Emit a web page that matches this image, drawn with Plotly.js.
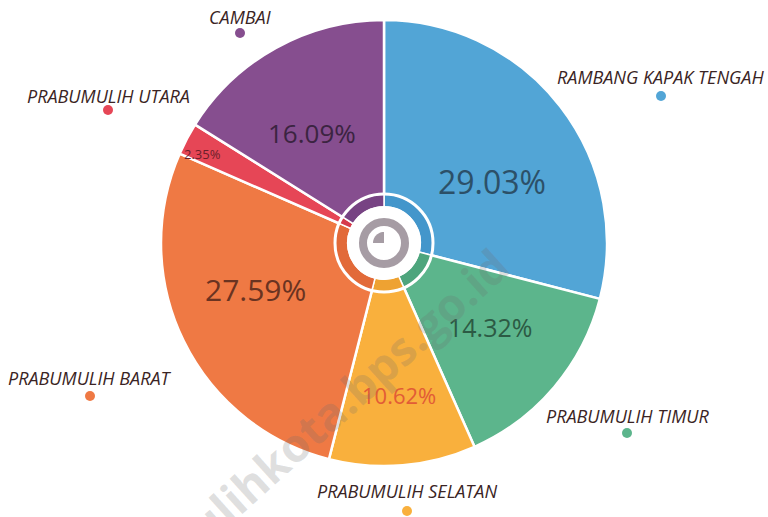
<!DOCTYPE html>
<html>
<head>
<meta charset="utf-8">
<script src="https://cdn.plot.ly/plotly-3.0.1.min.js"></script>
<style>html,body{margin:0;padding:0;background:#fff;}#chart{width:768px;height:517px;}</style>
</head>
<body>
<div id="chart"></div>
<script>
// ---- data ----
const categories = ["RAMBANG KAPAK TENGAH", "PRABUMULIH TIMUR", "PRABUMULIH SELATAN", "PRABUMULIH BARAT", "PRABUMULIH UTARA", "CAMBAI"];
const shares = [29.03, 14.32, 10.62, 27.59, 2.35, 16.09];
const percentLabels = ["29.03%", "14.32%", "10.62%", "27.59%", "2.35%", "16.09%"];

// ---- styles ----
const colors = ["#52a5d6", "#5cb58c", "#f9b03d", "#ef7944", "#e64656", "#864e8f"];
const innerColors = ["#4396cb", "#4ea57d", "#eea232", "#e26a39", "#d63b4b", "#774383"];
const textColors = ["#2c5068", "#2c5a44", "#e25c36", "#6a3321", "#6b1f2a", "#3b2441"];
const textSizes = [32, 25, 22, 30, 13, 26];
const textWeights = [400, 400, 400, 400, 400, 400];

const W = 768, H = 517, T = 20, R = 223;
const PH = 2 * R;
const cx = W / 2, cy = T + R;
const px = x => x / W;
const py = y => (T + PH - y) / PH;

// percent label centres (pixels)
const pctPos = [[492, 181], [490, 327], [399, 395], [255, 289], [202, 154], [312, 133]];
// category label positions (pixels): text centre and dot centre
const labelPos = [
  [660, 77, 661, 96],
  [627, 416, 627, 433],
  [407, 491, 407, 511],
  [90, 378, 90, 396],
  [108, 96, 108, 110],
  [240, 17, 240, 33]
];

const outer = {
  type: "pie",
  values: shares,
  labels: categories,
  textinfo: "none",
  sort: false,
  direction: "clockwise",
  rotation: 0,
  marker: { colors: colors, line: { color: "#ffffff", width: 2.5 } },
  domain: { x: [0, 1], y: [0, 1] },
  hoverinfo: "label+percent",
  showlegend: false
};

const ir = 49;
const inner = {
  type: "pie",
  values: shares,
  labels: categories,
  textinfo: "none",
  sort: false,
  direction: "clockwise",
  rotation: 0,
  hole: 0.74,
  marker: { colors: innerColors, line: { color: "#ffffff", width: 1.5 } },
  domain: { x: [0.5 - ir / W, 0.5 + ir / W], y: [0.5 - ir / PH, 0.5 + ir / PH] },
  hoverinfo: "skip",
  showlegend: false
};

function circ(x, y, r, fill, lineColor, lineWidth) {
  return {
    type: "circle", xref: "paper", yref: "paper", layer: "above",
    x0: px(x - r), x1: px(x + r), y0: py(y + r), y1: py(y - r),
    fillcolor: fill, line: { color: lineColor, width: lineWidth }
  };
}

const shapes = [];
shapes.push(circ(cx, cy, ir, "rgba(0,0,0,0)", "#ffffff", 3));
shapes.push(circ(cx, cy, 37, "#ffffff", "#ffffff", 0));
shapes.push(circ(cx, cy, 21, "rgba(0,0,0,0)", "#a69ca4", 8));
(function () {
  const r = 11;
  let p = `M ${px(cx)} ${py(cy)} L ${px(cx)} ${py(cy - r)}`;
  const n = 12;
  for (let i = 1; i <= n; i++) {
    const a = Math.PI / 2 + (Math.PI / 2) * i / n;
    p += ` L ${px(cx + r * Math.cos(a))} ${py(cy - r * Math.sin(a))}`;
  }
  p += " Z";
  shapes.push({ type: "path", xref: "paper", yref: "paper", layer: "above", path: p, fillcolor: "#a69ca4", line: { width: 0 } });
})();
categories.forEach((c, i) => {
  shapes.push(circ(labelPos[i][2], labelPos[i][3], 5, colors[i], colors[i], 0));
});

const annotations = [];
percentLabels.forEach((t, i) => {
  annotations.push({
    text: t,
    xref: "paper", yref: "paper",
    x: px(pctPos[i][0]), y: py(pctPos[i][1]),
    xanchor: "center", yanchor: "middle",
    showarrow: false,
    font: { family: "Open Sans", weight: textWeights[i], size: textSizes[i], color: textColors[i] }
  });
});
categories.forEach((c, i) => {
  annotations.push({
    text: "<i>" + c + "</i>",
    xref: "paper", yref: "paper",
    x: px(labelPos[i][0]), y: py(labelPos[i][1]),
    xanchor: "center", yanchor: "middle",
    showarrow: false,
    font: { family: "Open Sans", size: 18, color: "#3a2424" }
  });
});
annotations.push({
  text: "<b>prabumulihkota.bps.go.id</b>",
  xref: "paper", yref: "paper",
  x: px(280), y: py(456),
  xanchor: "center", yanchor: "middle",
  textangle: -42,
  showarrow: false,
  font: { family: "Open Sans", size: 46, color: "rgba(110,110,110,0.22)" }
});

const layout = {
  width: W, height: H,
  margin: { l: 0, r: 0, t: T, b: H - T - PH, pad: 0 },
  paper_bgcolor: "#ffffff",
  plot_bgcolor: "#ffffff",
  showlegend: false,
  shapes: shapes,
  annotations: annotations
};

Plotly.newPlot("chart", [outer, inner], layout, { displayModeBar: false, staticPlot: true });
</script>
</body>
</html>
